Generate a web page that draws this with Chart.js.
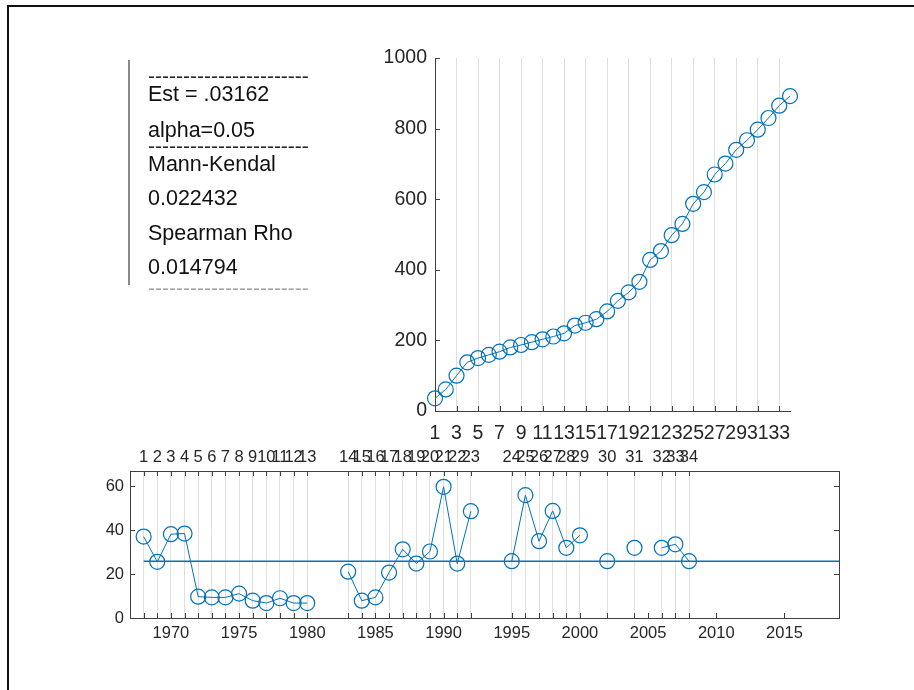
<!DOCTYPE html>
<html><head><meta charset="utf-8">
<script src="https://cdn.jsdelivr.net/npm/chart.js@4.4.1/dist/chart.umd.min.js"></script>
<style>
html,body{margin:0;padding:0;background:#fff;width:914px;height:690px;overflow:hidden;}
#wrap{position:relative;width:914px;height:690px;overflow:hidden;background:#fff;}
canvas{position:absolute;left:0;top:0;}
.frame{position:absolute;left:7px;top:5px;width:1000px;height:1000px;border-top:2px solid #111;border-left:2px solid #111;}
.vline{position:absolute;left:128px;top:60px;width:2px;height:225px;background:#8a8a8a;}
.t{position:absolute;left:148px;font-family:'Liberation Sans',Arial,sans-serif;font-size:21.5px;line-height:21px;color:#111;white-space:nowrap;}
.d{color:#262626;font-size:21px;}
.d2{color:#a6a6a6;font-size:21px;}
</style></head><body>
<div id="wrap">
<div class="frame"></div>
<canvas id="c1" width="914" height="690"></canvas>
<canvas id="c2" width="914" height="690"></canvas>
<div class="vline"></div>
<div class="t d" style="top:64.6px">-----------------------</div>
<div class="t" style="top:83.7px">Est = .03162</div>
<div class="t" style="top:120.3px">alpha=0.05</div>
<div class="t d" style="top:135.2px">-----------------------</div>
<div class="t" style="top:153.7px">Mann-Kendal</div>
<div class="t" style="top:187.7px">0.022432</div>
<div class="t" style="top:222.7px">Spearman Rho</div>
<div class="t" style="top:257px">0.014794</div>
<div class="t d2" style="top:277.2px">-----------------------</div>
</div>
<script>
// ---------- data ----------
const cumIndex = [1,2,3,4,5,6,7,8,9,10,11,12,13,14,15,16,17,18,19,20,21,22,23,24,25,26,27,28,29,30,31,32,33,34];
const cumValues = [36,61,100,138,150,159,168,180,187,195,203,211,220,242,250,260,282,312,336,366,428,453,498,530,587,620,670,701,740,767,797,830,865,892];
const topXTicks = [1,3,5,7,9,11,13,15,17,19,21,23,25,27,29,31,33];
const topYTicks = [0,200,400,600,800,1000];

const years = [1968,1969,1970,1971,1972,1973,1974,1975,1976,1977,1978,1979,1980,
  1983,1984,1985,1986,1987,1988,1989,1990,1991,1992,
  1995,1996,1997,1998,1999,2000,2002,2004,2006,2007,2008];
const yearValues = [37.1,25.6,38.2,38.5,9.7,9.4,9.4,11.1,7.9,6.8,9.0,6.8,6.8,
  21.1,7.9,9.4,20.7,31.3,24.8,30.3,59.8,24.8,48.7,
  25.9,56.0,35.0,48.8,32.0,37.7,25.9,32.0,32.0,33.6,25.9];
const indexLabels = ['1','2','3','4','5','6','7','8','9','10','11','12','13','14','15','16','17','18','19','20','21','22','23','24','25','26','27','28','29','30','31','32','33','34'];
const medianValue = 25.9;
const medianRange = [1968, 2019];
const yearTicks = [1970,1975,1980,1985,1990,1995,2000,2005,2010,2015];
const bottomYTicks = [0,20,40,60];

// ---------- helpers ----------
const FONT = "'Liberation Sans', Arial, sans-serif";
const TXT = '#262626';
const AX = '#404040';
const GRID = 'rgba(38,38,38,0.15)';
const BLUE = '#0072BD';

const inwardTicks = {
  id: 'inwardTicks',
  afterDraw(chart, args, opts) {
    const ctx = chart.ctx, ca = chart.chartArea, L = opts.len || 5;
    ctx.save();
    ctx.strokeStyle = opts.color || AX;
    ctx.lineWidth = 1;
    (opts.specs || []).forEach(sp => {
      const sc = chart.scales[sp.scale];
      sc.ticks.forEach(t => {
        const p = Math.round(sc.getPixelForValue(t.value)) + 0.5;
        ctx.beginPath();
        sp.sides.forEach(side => {
          if (side === 'bottom') { ctx.moveTo(p, ca.bottom); ctx.lineTo(p, ca.bottom - L); }
          if (side === 'top') { ctx.moveTo(p, ca.top); ctx.lineTo(p, ca.top + L); }
          if (side === 'left') { ctx.moveTo(ca.left, p); ctx.lineTo(ca.left + L, p); }
          if (side === 'right') { ctx.moveTo(ca.right, p); ctx.lineTo(ca.right - L, p); }
        });
        ctx.stroke();
      });
    });
    if (opts.box) {
      ctx.strokeRect(Math.round(ca.left) + 0.5, Math.round(ca.top) + 0.5,
        Math.round(ca.right - ca.left), Math.round(ca.bottom - ca.top));
    }
    ctx.restore();
  }
};

function setTicks(arr) { return s => { s.ticks = arr.map(v => ({ value: v })); }; }

// ---------- top chart (cumulative) ----------
new Chart(document.getElementById('c1'), {
  type: 'line',
  data: {
    datasets: [{
      data: cumIndex.map((x, i) => ({ x: x, y: cumValues[i] })),
      borderColor: BLUE, borderWidth: 1,
      pointRadius: 7.5, pointBorderWidth: 1.2, pointBackgroundColor: 'rgba(0,0,0,0)',
      pointBorderColor: BLUE, pointStyle: 'circle', tension: 0, clip: false
    }]
  },
  options: {
    responsive: false, animation: false, devicePixelRatio: 1, events: [],
    layout: { padding: { left: 375, right: 124, top: 58, bottom: 239 } },
    plugins: {
      legend: { display: false }, tooltip: { enabled: false },
      inwardTicks: { specs: [{ scale: 'x', sides: ['bottom'] }, { scale: 'y', sides: ['left'] }], len: 5 }
    },
    scales: {
      x: {
        type: 'linear', min: 1, max: 34,
        afterBuildTicks: setTicks(topXTicks),
        afterFit: s => { s.height = 40; },
        grid: { display: true, color: GRID, drawTicks: false },
        border: { display: true, color: AX, width: 1 },
        ticks: { autoSkip: false, maxRotation: 0, minRotation: 0, padding: 11, color: TXT,
          font: { family: FONT, size: 19.5 }, callback: v => String(v) }
      },
      y: {
        type: 'linear', min: 0, max: 1000,
        afterBuildTicks: setTicks(topYTicks),
        afterFit: s => { s.width = 60; },
        grid: { display: false, drawTicks: false },
        border: { display: true, color: AX, width: 1 },
        ticks: { padding: 8, color: TXT, font: { family: FONT, size: 19.5 }, callback: v => String(v) }
      }
    }
  },
  plugins: [inwardTicks]
});

// ---------- bottom chart (yearly) ----------
const seriesPts = [];
years.forEach((yr, i) => {
  if (i > 0 && yr - years[i - 1] > 1) seriesPts.push({ x: years[i - 1] + 1, y: null });
  seriesPts.push({ x: yr, y: yearValues[i] });
});

new Chart(document.getElementById('c2'), {
  type: 'line',
  data: {
    datasets: [{
      data: seriesPts,
      borderColor: BLUE, borderWidth: 1, spanGaps: false,
      pointRadius: 7.5, pointBorderWidth: 1.2, pointBackgroundColor: 'rgba(0,0,0,0)',
      pointBorderColor: BLUE, tension: 0, clip: false
    }, {
      data: medianRange.map(x => ({ x: x, y: medianValue })),
      borderColor: BLUE, borderWidth: 1.5, pointRadius: 0, tension: 0
    }]
  },
  options: {
    responsive: false, animation: false, devicePixelRatio: 1, events: [],
    layout: { padding: { left: 90, right: 75, top: 441, bottom: 37 } },
    plugins: {
      legend: { display: false }, tooltip: { enabled: false },
      inwardTicks: {
        specs: [
          { scale: 'x', sides: ['bottom'] },
          { scale: 'x2', sides: ['top', 'bottom'] },
          { scale: 'y', sides: ['left', 'right'] }
        ], len: 5, box: true
      }
    },
    scales: {
      x: {
        type: 'linear', position: 'bottom', min: 1967, max: 2019,
        afterBuildTicks: setTicks(yearTicks),
        afterFit: s => { s.height = 35; },
        grid: { display: false, drawTicks: false },
        border: { display: true, color: AX, width: 1 },
        ticks: { autoSkip: false, maxRotation: 0, minRotation: 0, padding: 6, color: TXT,
          font: { family: FONT, size: 16.5 }, callback: v => String(v) }
      },
      x2: {
        type: 'linear', axis: 'x', position: 'top', min: 1967, max: 2019,
        afterBuildTicks: setTicks(years),
        afterFit: s => { s.height = 30; },
        grid: { display: true, color: GRID, drawTicks: false },
        border: { display: true, color: AX, width: 1 },
        ticks: { autoSkip: false, maxRotation: 0, minRotation: 0, padding: 4, color: TXT,
          font: { family: FONT, size: 16.5 }, callback: (v, i) => indexLabels[i] }
      },
      y: {
        type: 'linear', min: 0, max: 67,
        afterBuildTicks: setTicks(bottomYTicks),
        afterFit: s => { s.width = 40; },
        grid: { display: false, drawTicks: false },
        border: { display: true, color: AX, width: 1 },
        ticks: { padding: 6, color: TXT, font: { family: FONT, size: 16.5 }, callback: v => String(v) }
      }
    }
  },
  plugins: [inwardTicks]
});
</script>
</body></html>
